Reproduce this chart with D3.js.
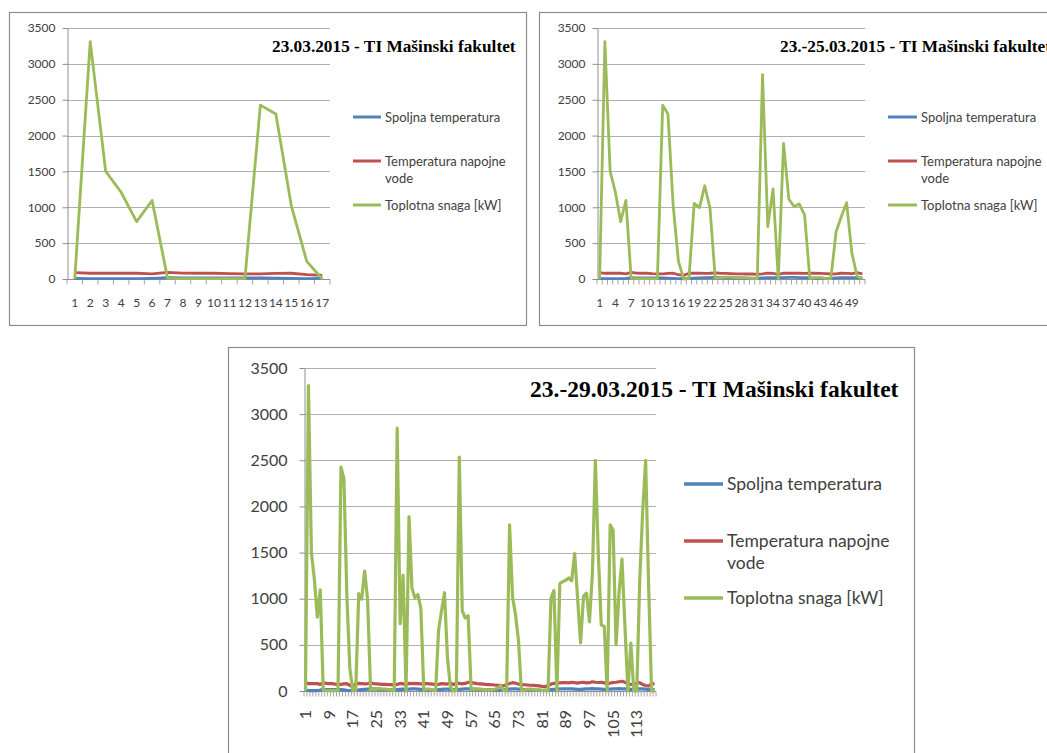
<!DOCTYPE html>
<html><head><meta charset="utf-8">
<script src="https://cdn.jsdelivr.net/npm/d3@7"></script>
<style>body{margin:0;background:#fff}svg{display:block}</style>
</head><body>
<svg id="c" width="1047" height="753"></svg>
<script>
const titles = ["23.03.2015 - TI Mašinski fakultet", "23.-25.03.2015 - TI Mašinski fakultet", "23.-29.03.2015 - TI Mašinski fakultet"];
const seriesNames = ["Spoljna temperatura", ["Temperatura napojne", "vode"], "Toplotna snaga [kW]"];
const seriesColors = ["#4F81BD", "#C0504D", "#9BBB59"];
const yTicks = [0, 500, 1000, 1500, 2000, 2500, 3000, 3500];
const xLabels1 = [1,2,3,4,5,6,7,8,9,10,11,12,13,14,15,16,17];
const xLabels2 = [1,4,7,10,13,16,19,22,25,28,31,34,37,40,43,46,49];
const xLabels3 = [1,9,17,25,33,41,49,57,65,73,81,89,97,105,113];
const pointCounts = [17, 51, 119];

const spoljna = [
 10,5,5,5,5,10,18,15,15,15,15,15,15,12,8,5,8,
 10,12,15,18,20,22,22,20,18,15,15,12,12,10,15,18,20,
 18,20,22,22,20,18,15,12,12,10,10,15,18,20,20,18,15,
 15,18,20,22,22,20,20,18,18,15,15,12,12,10,10,12,15,
 18,20,22,22,20,18,15,15,12,12,10,10,8,8,10,15,18,
 20,22,22,24,24,22,20,18,18,20,22,24,25,24,22,20,18,
 18,20,22,24,25,24,22,20,18,18,20,22,22,20,18,15,15];
const napojna = [
 90,80,80,80,80,72,92,82,80,80,75,72,72,78,80,60,50,
 80,82,80,78,80,85,80,78,75,72,72,70,70,65,72,82,78,
 65,82,80,82,80,78,80,80,78,75,70,72,80,78,75,88,70,
 85,82,78,82,95,90,85,80,78,75,72,70,68,65,62,60,55,
 70,82,90,85,75,70,68,65,62,60,58,55,50,48,55,75,82,
 85,88,90,92,88,95,90,85,92,95,88,90,100,95,92,95,88,
 80,85,92,95,100,105,95,80,70,75,85,90,70,60,55,75,80];
const snaga = [
 0,3310,1500,1210,800,1095,10,5,5,5,5,5,2425,2300,1020,245,0,
 10,1055,995,1300,990,15,20,25,25,20,20,15,10,5,2850,730,1255,
 0,1890,1115,1010,1045,895,10,20,20,10,5,660,870,1065,360,40,0,
 5,2535,870,790,815,20,25,20,20,15,15,10,10,20,30,60,5,
 0,1800,1020,830,550,0,10,20,20,15,10,10,5,5,0,1005,1090,
 0,1165,1185,1200,1225,1195,1490,1000,520,1025,1060,750,1275,2500,1480,715,700,
 0,1800,1745,500,1060,1430,700,0,520,0,0,1200,1950,2500,1150,0,0];

const layouts = [
 {fx:9.5, fy:12.5, fw:517, fh:313, x0:67, x1:330, y0:28, y1:279, tick:12, yPad:7, xPad:24, rot:false,
  tx:272, ty:52, tsize:17.3, lx0:353, lx1:381, ly:[117,161,205], ltx:385, lsize:13, l2:17, lw:3, sw:2.8},
 {fx:539.5, fy:12.5, fw:530, fh:313, x0:597, x1:865, y0:28, y1:279, tick:12, yPad:7, xPad:24, rot:false,
  tx:780, ty:52, tsize:17.3, lx0:888, lx1:917, ly:[117,161,205], ltx:921, lsize:13, l2:17, lw:3, sw:2.8},
 {fx:228.5, fy:347.5, fw:686, fh:420, x0:304, x1:656, y0:368, y1:691, tick:16, yPad:12, xPad:19, rot:true,
  tx:530, ty:397, tsize:23.5, lx0:684, lx1:723, ly:[484,541,598], ltx:727, lsize:17.5, l2:22, lw:3.5, sw:3.2}
];
const xLabelSets = [xLabels1, xLabels2, xLabels3];
const axisColor = "#8e8e8e", gridColor = "#b0b0b0", textColor = "#404040";
const sansFont = "Lato, 'Open Sans', sans-serif";
const serifFont = "'Liberation Serif', 'DejaVu Serif', serif";

const svg = d3.select("#c");

layouts.forEach((L, p) => {
  const n = pointCounts[p];
  const g = svg.append("g");
  g.append("rect").attr("x", L.fx).attr("y", L.fy).attr("width", L.fw).attr("height", L.fh)
    .attr("fill", "#fff").attr("stroke", "#8c8c8c").attr("stroke-width", 1.2);

  const cats = d3.range(1, n + 1);
  const x = d3.scaleBand().domain(cats).range([L.x0, L.x1]).padding(0);
  const y = d3.scaleLinear().domain([0, 3500]).range([L.y1, L.y0]);
  const cx = d => x(d) + x.bandwidth() / 2;

  // gridlines
  g.append("g").selectAll("line").data(yTicks.filter(v => v > 0)).join("line")
    .attr("x1", L.x0).attr("x2", L.x1)
    .attr("y1", d => Math.round(y(d)) + 0.5).attr("y2", d => Math.round(y(d)) + 0.5)
    .attr("stroke", gridColor).attr("stroke-width", 1);

  // y axis
  const ya = g.append("g").attr("transform", `translate(${L.x0 + 0.5},0)`)
    .call(d3.axisLeft(y).tickValues(yTicks).tickSize(5).tickSizeOuter(0).tickPadding(L.yPad).tickFormat(d3.format("d")));
  ya.select(".domain").attr("stroke", axisColor);
  ya.selectAll(".tick line").attr("stroke", axisColor);
  ya.selectAll("text").attr("font-family", sansFont).attr("font-size", L.tick).attr("fill", textColor);

  // x axis line and boundary ticks
  const xa = g.append("g").attr("transform", `translate(0,${Math.round(L.y1) + 0.5})`);
  xa.append("line").attr("x1", L.x0).attr("x2", L.x1).attr("stroke", axisColor);
  xa.selectAll(".bt").data(cats.concat([n + 1])).join("line").attr("class", "bt")
    .attr("x1", d => d <= n ? x(d) : L.x1).attr("x2", d => d <= n ? x(d) : L.x1)
    .attr("y1", 0).attr("y2", 5).attr("stroke", axisColor).attr("stroke-width", 0.8);

  const xl = g.append("g").attr("transform", `translate(0,${L.y1})`)
    .call(d3.axisBottom(x).tickValues(xLabelSets[p]).tickSize(0).tickPadding(L.xPad));
  xl.select(".domain").remove();
  xl.selectAll("text").attr("font-family", sansFont).attr("font-size", L.tick).attr("fill", textColor);
  if (L.rot) {
    xl.selectAll("text").attr("transform", "rotate(-90)").attr("text-anchor", "end")
      .attr("x", -L.xPad).attr("y", 0).attr("dy", "0.35em");
  } else {
    xl.selectAll("text").attr("dy", "0.35em").attr("y", L.xPad);
  }

  // series
  const series = [spoljna, napojna, snaga];
  series.forEach((s, k) => {
    const vals = s.slice(0, n);
    g.append("path").datum(vals)
      .attr("d", d3.line().x((v, i) => cx(cats[i])).y(v => y(v)))
      .attr("fill", "none").attr("stroke", seriesColors[k]).attr("stroke-width", L.sw)
      .attr("stroke-linejoin", "round").attr("stroke-linecap", "butt");
  });

  // title
  g.append("text").attr("x", L.tx).attr("y", L.ty).text(titles[p])
    .attr("font-family", serifFont).attr("font-weight", "bold").attr("font-size", L.tsize).attr("fill", "#000");

  // legend
  seriesNames.forEach((name, k) => {
    g.append("line").attr("x1", L.lx0).attr("x2", L.lx1).attr("y1", L.ly[k]).attr("y2", L.ly[k])
      .attr("stroke", seriesColors[k]).attr("stroke-width", L.lw);
    const lines = Array.isArray(name) ? name : [name];
    const t = g.append("text").attr("font-family", sansFont).attr("font-size", L.lsize).attr("fill", textColor);
    lines.forEach((ln, j) => {
      t.append("tspan").attr("x", L.ltx).attr("y", L.ly[k] + j * L.l2).attr("dy", "0.35em").text(ln);
    });
  });
});
</script>
</body></html>
